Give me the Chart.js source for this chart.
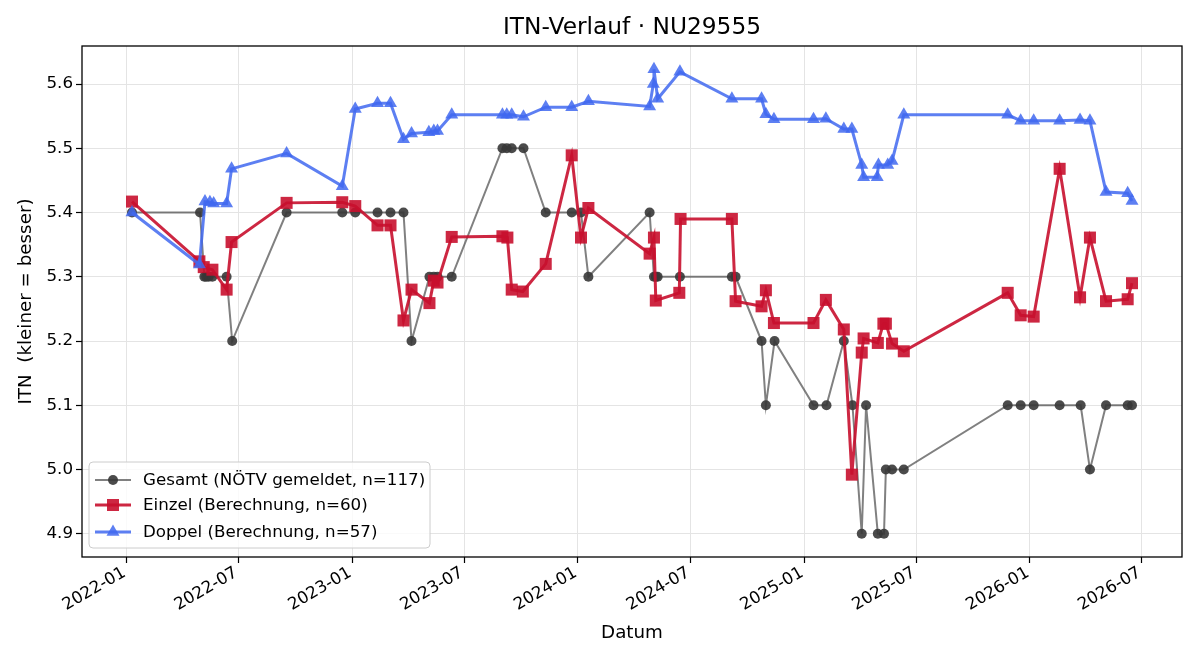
<!DOCTYPE html>
<html><head><meta charset="utf-8">
<script src="https://cdn.jsdelivr.net/npm/chart.js@4.4.1/dist/chart.umd.min.js"></script>
<style>html,body{margin:0;padding:0;background:#fff;}canvas{display:block;}</style>
</head><body>
<canvas id="c" width="1200" height="660" style="width:1200px;height:660px"></canvas>
<script>
const gesamtDates = ['2022-01-10','2022-04-30','2022-05-07','2022-05-10','2022-05-14','2022-05-20','2022-06-12','2022-06-21','2022-09-17','2022-12-16','2023-01-06','2023-02-11','2023-03-04','2023-03-25','2023-04-07','2023-05-06','2023-05-13','2023-05-19','2023-06-11','2023-09-01','2023-09-08','2023-09-16','2023-10-05','2023-11-10','2023-12-22','2024-01-06','2024-01-18','2024-04-26','2024-05-03','2024-05-06','2024-05-09','2024-06-14','2024-09-06','2024-09-12','2024-10-24','2024-10-31','2024-11-14','2025-01-16','2025-02-06','2025-03-06','2025-03-20','2025-04-04','2025-04-11','2025-04-30','2025-05-10','2025-05-13','2025-05-23','2025-06-11','2025-11-26','2025-12-17','2026-01-07','2026-02-18','2026-03-24','2026-04-08','2026-05-04','2026-06-08','2026-06-15'];
const gesamtValues = [5.4,5.4,5.3,5.3,5.3,5.3,5.3,5.2,5.4,5.4,5.4,5.4,5.4,5.4,5.2,5.3,5.3,5.3,5.3,5.5,5.5,5.5,5.5,5.4,5.4,5.4,5.3,5.4,5.3,5.3,5.3,5.3,5.3,5.3,5.2,5.1,5.2,5.1,5.1,5.2,5.1,4.9,5.1,4.9,4.9,5.0,5.0,5.0,5.1,5.1,5.1,5.1,5.1,5.0,5.1,5.1,5.1];

const einzelDates = ['2022-01-10','2022-04-29','2022-05-06','2022-05-20','2022-06-12','2022-06-20','2022-09-17','2022-12-16','2023-01-06','2023-02-11','2023-03-04','2023-03-25','2023-04-07','2023-05-06','2023-05-13','2023-05-19','2023-06-11','2023-09-01','2023-09-09','2023-09-16','2023-10-04','2023-11-10','2023-12-22','2024-01-06','2024-01-18','2024-04-26','2024-05-03','2024-05-06','2024-06-13','2024-06-15','2024-09-06','2024-09-12','2024-10-24','2024-10-31','2024-11-13','2025-01-16','2025-02-05','2025-03-06','2025-03-19','2025-04-04','2025-04-07','2025-04-30','2025-05-09','2025-05-13','2025-05-23','2025-06-11','2025-11-26','2025-12-17','2026-01-07','2026-02-18','2026-03-23','2026-04-08','2026-05-04','2026-06-08','2026-06-15'];
const einzelValues = [5.417,5.324,5.315,5.311,5.280,5.354,5.415,5.416,5.410,5.380,5.380,5.232,5.280,5.259,5.294,5.291,5.362,5.363,5.361,5.280,5.277,5.320,5.489,5.361,5.407,5.336,5.361,5.263,5.275,5.390,5.390,5.262,5.254,5.279,5.228,5.228,5.264,5.218,4.992,5.182,5.204,5.197,5.227,5.227,5.196,5.184,5.275,5.240,5.238,5.468,5.268,5.361,5.262,5.265,5.290];

const doppelDates = ['2022-01-10','2022-04-29','2022-05-08','2022-05-16','2022-05-22','2022-06-12','2022-06-20','2022-09-17','2022-12-16','2023-01-06','2023-02-11','2023-03-04','2023-03-25','2023-04-07','2023-05-05','2023-05-13','2023-05-19','2023-06-11','2023-09-01','2023-09-08','2023-09-16','2023-10-05','2023-11-10','2023-12-22','2024-01-18','2024-04-26','2024-05-02','2024-05-03','2024-05-09','2024-06-14','2024-09-06','2024-10-24','2024-10-31','2024-11-13','2025-01-16','2025-02-05','2025-03-06','2025-03-19','2025-04-04','2025-04-07','2025-04-29','2025-05-01','2025-05-16','2025-05-23','2025-06-11','2025-11-26','2025-12-17','2026-01-07','2026-02-18','2026-03-23','2026-04-08','2026-05-04','2026-06-08','2026-06-15'];
const doppelValues = [5.400,5.319,5.417,5.416,5.414,5.414,5.468,5.492,5.441,5.561,5.570,5.570,5.514,5.523,5.525,5.527,5.527,5.552,5.552,5.552,5.552,5.549,5.564,5.564,5.573,5.565,5.600,5.623,5.577,5.619,5.577,5.577,5.553,5.545,5.545,5.546,5.530,5.530,5.474,5.455,5.455,5.474,5.474,5.480,5.552,5.552,5.543,5.543,5.543,5.544,5.543,5.432,5.430,5.418];

const seriesLabels = ['Gesamt (NÖTV gemeldet, n=117)','Einzel (Berechnung, n=60)','Doppel (Berechnung, n=57)'];
const chartTitle = 'ITN-Verlauf · NU29555';
const xTickLabels = ['2022-01','2022-07','2023-01','2023-07','2024-01','2024-07','2025-01','2025-07','2026-01','2026-07'];
const yTicks = [4.9,5.0,5.1,5.2,5.3,5.4,5.5,5.6];

const DAY = 86400000;
const toDay = s => Date.parse(s) / DAY;
const pts = (d, v) => d.map((s, i) => ({x: toDay(s), y: v[i]}));

const allX = gesamtDates.concat(einzelDates, doppelDates).map(toDay);
const allY = gesamtValues.concat(einzelValues, doppelValues);
const xLo = Math.min(...allX), xHi = Math.max(...allX), xm = 0.05 * (xHi - xLo);
const yLo = Math.min(...allY), yHi = Math.max(...allY), ym = 0.05 * (yHi - yLo);
const xTickVals = xTickLabels.map(l => toDay(l + '-01'));

const FONT = "'DejaVu Sans', sans-serif";
const styles = [
  {line: 'rgba(60,60,60,0.65)', point: 'rgba(55,55,55,0.9)', width: 2, style: 'circle', r: 5},
  {line: 'rgba(200,16,46,0.9)', point: 'rgba(200,16,46,0.9)', width: 3, style: 'rect', r: 8.5},
  {line: 'rgba(65,105,240,0.85)', point: 'rgba(65,105,240,0.85)', width: 3, style: 'triangle', r: 7.5}
];

function mkDs(i, data, order) {
  const s = styles[i];
  return {
    label: seriesLabels[i], data, order,
    borderColor: s.line, borderWidth: s.width,
    pointStyle: s.style, pointRadius: s.r,
    pointBackgroundColor: s.point, pointBorderColor: s.point, pointBorderWidth: 0,
    tension: 0, fill: false
  };
}

const framePlugin = {
  id: 'frameLegend',
  afterDraw(chart) {
    const ctx = chart.ctx, a = chart.chartArea;
    ctx.save();
    ctx.fillStyle = '#000'; ctx.font = '23.3px ' + FONT;
    ctx.textAlign = 'center'; ctx.textBaseline = 'middle';
    ctx.fillText(chartTitle, (a.left + a.right) / 2, 28);
    ctx.strokeStyle = '#000'; ctx.lineWidth = 1.3;
    ctx.strokeRect(a.left, a.top, a.right - a.left, a.bottom - a.top);
    const bx = a.left + 7, by = a.bottom - 95, bw = 341, bh = 86;
    ctx.beginPath();
    ctx.roundRect(bx, by, bw, bh, 4);
    ctx.fillStyle = 'rgba(255,255,255,0.8)'; ctx.fill();
    ctx.strokeStyle = '#cccccc'; ctx.lineWidth = 1; ctx.stroke();
    const rows = [by + 18, by + 43, by + 70];
    ctx.font = '16.7px ' + FONT; ctx.textBaseline = 'middle'; ctx.textAlign = 'left';
    for (let i = 0; i < 3; i++) {
      const s = styles[i], y = rows[i];
      ctx.strokeStyle = s.line; ctx.lineWidth = s.width;
      ctx.beginPath(); ctx.moveTo(bx + 6, y); ctx.lineTo(bx + 42, y); ctx.stroke();
      ctx.fillStyle = s.point; ctx.strokeStyle = s.point;
      Chart.helpers.drawPoint(ctx, {pointStyle: s.style, radius: s.r, rotation: 0, borderWidth: 0}, bx + 24, y);
      ctx.fillStyle = '#000';
      ctx.fillText(seriesLabels[i], bx + 54, y + 1);
    }
    ctx.restore();
  }
};

new Chart(document.getElementById('c'), {
  type: 'line',
  data: { datasets: [
    mkDs(0, pts(gesamtDates, gesamtValues), 3),
    mkDs(1, pts(einzelDates, einzelValues), 2),
    mkDs(2, pts(doppelDates, doppelValues), 1)
  ]},
  options: {
    responsive: false, devicePixelRatio: 1, animation: false,
    layout: { padding: { left: 0, right: 18, top: 46, bottom: 0 } },
    plugins: { legend: { display: false }, tooltip: { enabled: false }, title: { display: false } },
    scales: {
      x: {
        type: 'linear', min: xLo - xm, max: xHi + xm,
        afterBuildTicks: sc => { sc.ticks = xTickVals.map(v => ({value: v})); },
        afterFit: sc => { sc.height = 103; },
        ticks: { autoSkip: false, minRotation: 30, maxRotation: 30, padding: 0, labelOffset: -2, color: '#000',
          font: { family: FONT, size: 16.7 },
          callback: (v) => { const i = xTickVals.indexOf(v); return i >= 0 ? xTickLabels[i] : ''; } },
        grid: { color: '#e4e4e4', lineWidth: 1, tickColor: '#000', tickLength: 6, tickWidth: 1.2 },
        border: { display: false },
        title: { display: true, text: 'Datum', color: '#000', font: { family: FONT, size: 18.3 }, padding: { top: 0, bottom: 16 } }
      },
      y: {
        type: 'linear', min: yLo - ym, max: yHi + ym,
        afterBuildTicks: sc => { sc.ticks = yTicks.map(v => ({value: v})); },
        afterFit: sc => { sc.width = 82; },
        ticks: { padding: 3, color: '#000', font: { family: FONT, size: 16.7 }, callback: v => Number(v).toFixed(1) },
        grid: { color: '#e4e4e4', lineWidth: 1, tickColor: '#000', tickLength: 6, tickWidth: 1.2 },
        border: { display: false },
        title: { display: true, text: 'ITN  (kleiner = besser)', color: '#000', font: { family: FONT, size: 18.3 }, padding: { top: 15, bottom: 0 } }
      }
    }
  },
  plugins: [framePlugin]
});
</script>
</body></html>
